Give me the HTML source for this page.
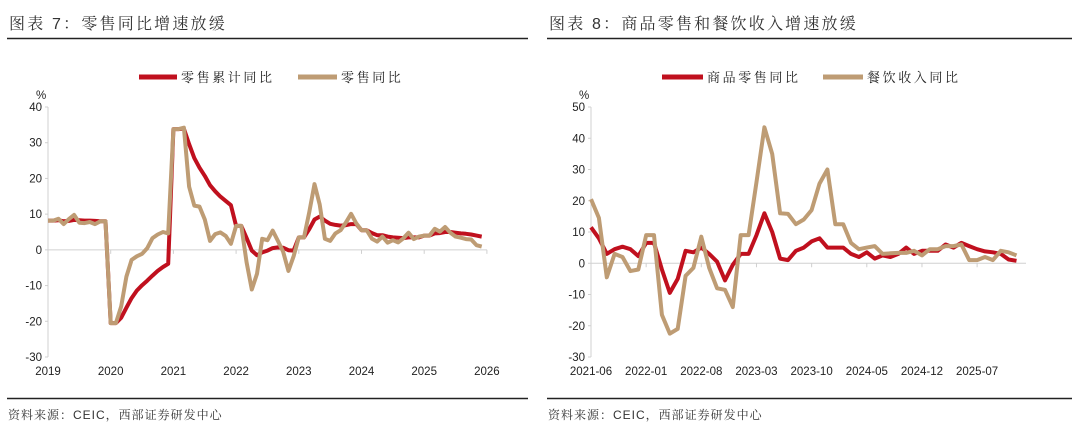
<!DOCTYPE html>
<html><head><meta charset="utf-8">
<style>
body{margin:0;background:#fff;width:1080px;height:438px;overflow:hidden}
svg{display:block}
.t{font-family:"Liberation Sans","Noto Serif CJK SC",serif;font-size:16px;fill:#333;letter-spacing:2.2px}
.lg{font-family:"Liberation Sans","Noto Serif CJK SC",serif;font-size:13px;fill:#222;letter-spacing:2.6px}
.tk{font-family:"Liberation Sans",sans-serif;font-size:11.5px;fill:#222}
.src{font-family:"Liberation Sans","Noto Serif CJK SC",serif;font-size:12px;fill:#333;letter-spacing:1px}
</style></head><body>
<svg id="svg" width="1080" height="438">
<text class="t" x="9" y="29">图表 7：零售同比增速放缓</text>
<line x1="7" y1="38.5" x2="528" y2="38.5" stroke="#222" stroke-width="1.5"/>
<text class="t" x="549" y="29">图表 8：商品零售和餐饮收入增速放缓</text>
<line x1="547" y1="38.5" x2="1072" y2="38.5" stroke="#222" stroke-width="1.5"/>
<line x1="7" y1="398.5" x2="528" y2="398.5" stroke="#222" stroke-width="1.5"/>
<line x1="547" y1="398.5" x2="1072" y2="398.5" stroke="#222" stroke-width="1.5"/>
<text class="src" x="8" y="419">资料来源：CEIC，西部证券研发中心</text>
<text class="src" x="548" y="419">资料来源：CEIC，西部证券研发中心</text>
<g>
<line x1="139" y1="77" x2="177" y2="77" stroke="#C0101E" stroke-width="5"/>
<text class="lg" x="181" y="82">零售累计同比</text>
<line x1="298" y1="77" x2="337" y2="77" stroke="#BE9C74" stroke-width="5"/>
<text class="lg" x="341" y="82">零售同比</text>
</g>
<g>
<line x1="662" y1="77" x2="703" y2="77" stroke="#C0101E" stroke-width="5"/>
<text class="lg" x="707" y="82">商品零售同比</text>
<line x1="823" y1="77" x2="863" y2="77" stroke="#BE9C74" stroke-width="5"/>
<text class="lg" x="867" y="82">餐饮收入同比</text>
</g>
</svg>
<script>
const leftYears=["2019","2020","2021","2022","2023","2024","2025","2026"];
const leftYTicks=[40,30,20,10,0,-10,-20,-30];
const retailCum=[8.2,8.2,8.3,8.0,8.1,8.4,8.3,8.2,8.2,8.1,8.0,8.0,
-20.5,-20.5,-19.0,-16.2,-13.5,-11.4,-9.9,-8.6,-7.2,-5.9,-4.8,-3.9,
33.8,33.8,33.9,29.6,25.7,23.0,20.7,18.1,16.4,14.9,13.7,12.5,
6.7,6.7,3.3,-0.2,-1.5,-0.7,-0.2,0.5,0.7,0.6,-0.1,-0.2,
3.5,3.5,5.8,8.5,9.3,8.2,7.3,7.0,6.8,6.9,7.2,7.2,
5.5,5.5,4.7,4.1,4.1,3.7,3.5,3.4,3.3,3.5,3.5,3.5,
4.0,4.0,4.6,4.7,5.0,5.0,4.8,4.6,4.5,4.3,4.0,3.7];
const retailYoy=[8.2,8.2,8.7,7.2,8.6,9.8,7.6,7.5,7.8,7.2,8.0,8.0,
-20.5,-20.5,-15.8,-7.5,-2.8,-1.8,-1.1,0.5,3.3,4.3,5.0,4.6,
33.8,33.8,34.2,17.7,12.4,12.1,8.5,2.5,4.4,4.9,3.9,1.7,
6.7,6.7,-3.5,-11.1,-6.7,3.1,2.7,5.4,2.5,-0.5,-5.9,-1.8,
3.5,3.5,10.6,18.4,12.7,3.1,2.5,4.6,5.5,7.6,10.1,7.4,
5.5,5.5,3.1,2.3,3.7,2.0,2.7,2.1,3.2,4.8,3.0,3.7,
4.0,4.0,5.9,5.1,6.4,4.8,3.7,3.4,3.0,2.9,1.3,0.9];
const rightLabels=["2021-06","2022-01","2022-08","2023-03","2023-10","2024-05","2024-12","2025-07"];
const rightYTicks=[50,40,30,20,10,0,-10,-20,-30];
const goodsYoy=[11.5,8,3,4.5,5.3,4.5,2.3,6.5,6.5,-2,-9.5,-5,4,3.5,5,3,0.5,-5.5,-0.5,3,3,9,16,10,1.5,1,4,5,7,8,5,5,5,3,2,3.5,1.5,2.5,2,3,5,3,4,4,4,6,5,6.5,5.5,4.5,3.8,3.5,3,1.2,0.8];
const cateringYoy=[20.5,14.5,-4.5,3,2,-2.5,-2,9,9,-16.5,-22.5,-21,-4,-1.5,8.5,-1.5,-8,-8.5,-14,9,9,26,43.5,35,16,15.8,12.5,14,17,25.5,30,12.5,12.5,6.5,4.5,5,5.5,3,3.2,3.3,3.3,4,2.5,4.5,4.5,5.5,5.5,6,1,1,2,1,4,3.5,2.5];

const NS="http://www.w3.org/2000/svg";
const svg=document.getElementById('svg');
function mk(tag,attrs,parent){const e=document.createElementNS(NS,tag);for(const k in attrs)e.setAttribute(k,attrs[k]);(parent||svg).appendChild(e);return e;}

function chart(o){
  const g=mk('g',{});
  
  
  const y=v=>o.y0+(o.ymax-v)*(o.y1-o.y0)/(o.ymax-o.ymin);
  const x=i=>o.x0+i*o.step;
  const ax=mk('line',{x1:o.x0,y1:y(o.ymax),x2:o.x0,y2:y(o.ymin),stroke:'#d0d0d0','stroke-width':1},g);
  
  
  const zl=mk('line',{x1:o.x0,y1:y(0),x2:o.xend,y2:y(0),stroke:'#d0d0d0','stroke-width':1},g);
  
  
  o.yticks.forEach(v=>{
    mk('line',{x1:o.x0-3,y1:y(v),x2:o.x0,y2:y(v),stroke:'#d0d0d0'},g);
    const t=mk('text',{class:'tk',x:o.x0-6,y:y(v)+4,'text-anchor':'end'},g);
    t.textContent=v;
    
    
  });
  const pu=mk('text',{class:'tk',x:o.x0-12,y:y(o.ymax)-8},g);pu.textContent='%';
  
  
  o.xlabels.forEach((s,i)=>{
    const xx=x(i*o.labelEvery);
    mk('line',{x1:xx,y1:y(0),x2:xx,y2:y(0)+4,stroke:'#d0d0d0'},g);
    const t=mk('text',{class:'tk',x:xx,y:375,'text-anchor':'middle'},g);
    t.textContent=s;
    
    
  });
  o.series.forEach(s=>{
    const p=mk('polyline',{points:s.d.map((v,i)=>x(i).toFixed(1)+','+y(v).toFixed(1)).join(' '),fill:'none',stroke:s.c,'stroke-width':4,'stroke-linejoin':'round'},g);
    
    
  });
}
chart({name:'chart7-plot',x0:48,step:62.7/12,xend:487,y0:107,y1:357,ymax:40,ymin:-30,yticks:leftYTicks,xlabels:leftYears,labelEvery:12,
  series:[{d:retailCum,c:'#C0101E',n:'line-retail-cumulative'},{d:retailYoy,c:'#BE9C74',n:'line-retail-yoy'}]});
chart({name:'chart8-plot',x0:591,step:7.88,xend:1026,y0:107,y1:357,ymax:50,ymin:-30,yticks:rightYTicks,xlabels:rightLabels,labelEvery:7,
  series:[{d:goodsYoy,c:'#C0101E',n:'line-goods-yoy'},{d:cateringYoy,c:'#BE9C74',n:'line-catering-yoy'}]});
</script>
</body></html>
